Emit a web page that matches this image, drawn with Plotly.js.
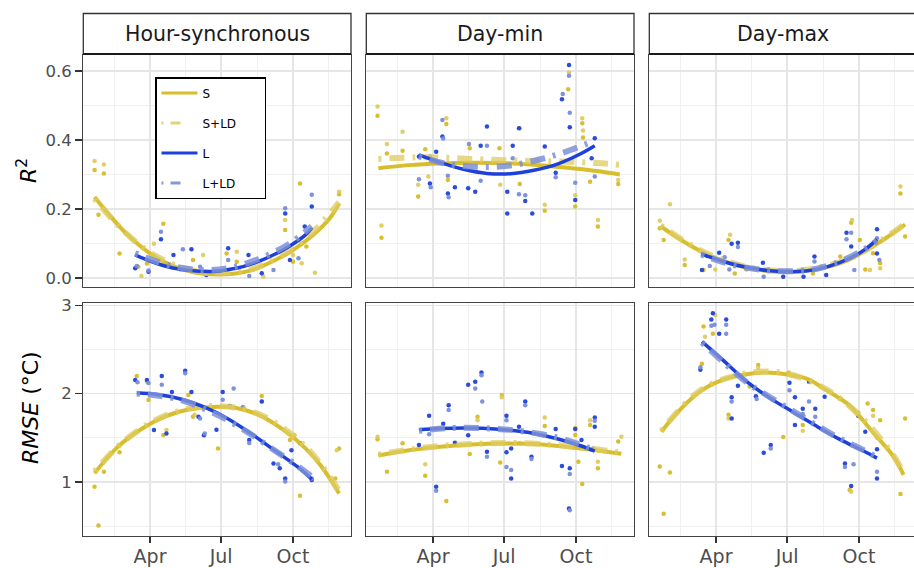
<!DOCTYPE html>
<html>
<head>
<meta charset="utf-8">
<script src="https://cdn.plot.ly/plotly-3.0.1.min.js"></script>
<style>
html,body{margin:0;padding:0;overflow:hidden;background:#fff;}
#chart{width:920px;height:568px;}
</style>
</head>
<body>
<div id="chart"></div>
<script>
// ---------- DATA (day of year, value) ----------
const facetTitles = ["Hour-synchronous", "Day-min", "Day-max"];
const seriesNames = ["S", "S+LD", "L", "L+LD"];
const monthTickDays = [91, 182, 274];
const monthTickText = ["Apr", "Jul", "Oct"];
const monthMinorDays = [45.5, 136.5, 228, 320];
const r2Ticks = [0, 0.2, 0.4, 0.6];
const r2TickText = ["0.0", "0.2", "0.4", "0.6"];
const r2Minor = [0.1, 0.3, 0.5];
const rmseTicks = [1, 2, 3];
const rmseMinor = [0.5, 1.5, 2.5];

// Hour-synchronous, R2
const hsR2_S_pts = [[20,0.313],[32,0.303],[25,0.183],[52,0.071],[76,0.033],[87,0.042],[108,0.157],[146,0.052],[189,0.071],[202,0.047],[264,0.139],[274,0.047],[283,0.274],[291,0.091],[333,0.243]];
const hsR2_SLD_pts = [[20,0.339],[32,0.329],[80,0.006],[96,0.099],[130,0.023],[159,0.067],[202,0.076],[236,0.004],[264,0.168],[274,0.067],[285,0.043],[302,0.015],[333,0.25]];
const hsR2_L_pts = [[72,0.028],[89,0.018],[105,0.112],[121,0.067],[144,0.083],[163,0.009],[191,0.086],[217,0.067],[234,0.014],[264,0.187],[270,0.052],[289,0.149],[298,0.207]];
const hsR2_LLD_pts = [[74,0.035],[89,0.022],[105,0.134],[133,0.083],[155,0.033],[191,0.052],[218,0.006],[249,0.023],[264,0.202],[281,0.057],[298,0.241]];
const hsR2_S_fit = [[20,0.235],[40,0.18],[60,0.13],[80,0.09],[100,0.058],[120,0.035],[140,0.02],[160,0.012],[180,0.01],[200,0.013],[220,0.022],[240,0.04],[260,0.062],[280,0.09],[300,0.125],[320,0.17],[333,0.215]];
const hsR2_SLD_fit = [[20,0.23],[60,0.13],[100,0.062],[140,0.025],[180,0.015],[220,0.025],[260,0.068],[300,0.135],[333,0.22]];
const hsR2_L_fit = [[72,0.067],[90,0.05],[110,0.035],[130,0.025],[150,0.02],[170,0.019],[190,0.024],[210,0.033],[230,0.048],[250,0.068],[270,0.093],[290,0.125],[298,0.145]];
const hsR2_LLD_fit = [[72,0.072],[110,0.04],[150,0.024],[190,0.028],[230,0.055],[270,0.1],[298,0.15]];

// Day-min, R2
const dnR2_S_pts = [[20,0.47],[25,0.117],[32,0.361],[52,0.369],[72,0.236],[81,0.373],[108,0.446],[110,0.284],[138,0.376],[176,0.376],[202,0.272],[234,0.195],[264,0.547],[273,0.207],[282,0.448],[283,0.407],[292,0.279],[302,0.149],[328,0.272]];
const dnR2_SLD_pts = [[20,0.497],[25,0.152],[32,0.388],[52,0.424],[72,0.27],[85,0.294],[108,0.463],[177,0.27],[202,0.434],[234,0.212],[265,0.595],[273,0.24],[282,0.463],[283,0.427],[302,0.168],[328,0.284]];
const dnR2_L_pts = [[73,0.352],[87,0.274],[95,0.366],[103,0.41],[110,0.245],[119,0.263],[136,0.26],[145,0.25],[152,0.383],[160,0.439],[186,0.187],[186,0.25],[193,0.383],[201,0.434],[209,0.223],[218,0.187],[234,0.381],[248,0.305],[256,0.518],[265,0.617],[266,0.437],[273,0.226],[294,0.347],[298,0.405]];
const dnR2_LLD_pts = [[73,0.286],[87,0.352],[88,0.263],[103,0.458],[104,0.404],[110,0.296],[111,0.234],[137,0.388],[152,0.282],[160,0.383],[193,0.347],[201,0.243],[209,0.24],[248,0.292],[257,0.533],[265,0.586],[266,0.479],[273,0.276],[298,0.294]];
const dnR2_S_fit = [[21,0.318],[60,0.327],[100,0.332],[140,0.334],[180,0.333],[220,0.328],[260,0.32],[300,0.31],[330,0.3]];
const dnR2_SLD_fit = [[21,0.345],[80,0.35],[140,0.345],[200,0.34],[260,0.337],[300,0.333],[330,0.328]];
const dnR2_L_fit = [[73,0.357],[100,0.335],[130,0.315],[160,0.303],[190,0.302],[220,0.312],[250,0.33],[280,0.36],[298,0.383]];
const dnR2_LLD_fit = [[73,0.352],[110,0.33],[150,0.322],[190,0.326],[230,0.345],[260,0.365],[298,0.398]];

// Day-max, R2
const dxR2_S_pts = [[19,0.144],[24,0.11],[51,0.038],[75,0.023],[107,0.11],[115,0.013],[130,0.025],[215,0.013],[250,0.062],[264,0.16],[275,0.11],[282,0.025],[292,0.072],[301,0.043],[327,0.245],[333,0.12]];
const dxR2_SLD_pts = [[19,0.166],[32,0.214],[51,0.054],[90,0.025],[109,0.125],[265,0.168],[288,0.023],[301,0.028],[327,0.265]];
const dxR2_L_pts = [[73,0.023],[80,0.064],[95,0.073],[111,0.099],[119,0.102],[151,0.044],[177,0.004],[203,0.004],[217,0.062],[232,0.009],[258,0.131],[264,0.091],[297,0.141],[297,0.071]];
const dxR2_LLD_pts = [[83,0.035],[102,0.06],[119,0.09],[108,0.025],[152,0.004],[217,0.048],[258,0.112],[264,0.131],[268,0.023],[297,0.115],[300,0.052]];
const dxR2_S_fit = [[20,0.15],[50,0.105],[80,0.068],[110,0.042],[140,0.026],[170,0.019],[200,0.02],[230,0.03],[260,0.052],[290,0.09],[310,0.118],[333,0.155]];
const dxR2_SLD_fit = [[20,0.152],[80,0.07],[140,0.028],[200,0.022],[260,0.055],[310,0.12],[333,0.158]];
const dxR2_L_fit = [[72,0.07],[100,0.048],[130,0.031],[160,0.021],[190,0.018],[220,0.025],[250,0.045],[280,0.08],[297,0.112]];
const dxR2_LLD_fit = [[72,0.068],[100,0.046],[130,0.03],[160,0.022],[190,0.02],[220,0.027],[250,0.048],[280,0.082],[297,0.108]];

// Hour-synchronous, RMSE
const hsRM_S_pts = [[20,0.947],[25,0.506],[32,1.117],[52,1.336],[74,2.2],[89,1.928],[108,1.532],[140,1.985],[146,1.74],[178,1.38],[234,1.974],[270,1.475],[283,0.845],[328,1.04],[333,1.38]];
const hsRM_SLD_pts = [[87,2.136],[112,1.589],[148,1.76],[234,1.91],[276,1.532],[330,1.36]];
const hsRM_L_pts = [[72,2.155],[87,2.155],[96,1.589],[106,2.2],[112,1.55],[119,2.02],[136,2.26],[144,2.02],[153,1.74],[160,1.53],[176,1.59],[184,2.02],[193,1.86],[208,1.83],[218,1.475],[234,1.91],[249,1.21],[257,1.155],[264,1.04],[272,1.36],[283,1.438],[298,1.023]];
const hsRM_LLD_pts = [[75,2.13],[89,2.12],[106,2.1],[136,2.23],[155,1.72],[161,1.55],[184,1.93],[198,2.06],[210,1.85],[218,1.44],[255,1.2],[264,1.004],[298,1.04]];
const hsRM_S_fit = [[20,1.1],[50,1.4],[80,1.6],[110,1.74],[140,1.82],[170,1.85],[200,1.84],[230,1.76],[260,1.6],[290,1.38],[310,1.18],[333,0.87]];
const hsRM_SLD_fit = [[20,1.12],[60,1.48],[110,1.75],[170,1.86],[230,1.77],[290,1.4],[333,0.9]];
const hsRM_L_fit = [[74,2.01],[100,1.99],[130,1.94],[160,1.85],[190,1.72],[220,1.55],[250,1.36],[280,1.17],[298,1.03]];
const hsRM_LLD_fit = [[74,2.0],[100,1.98],[130,1.93],[160,1.83],[190,1.7],[220,1.54],[250,1.36],[280,1.18],[298,1.06]];

// Day-min, RMSE
const dnRM_S_pts = [[20,1.483],[32,1.117],[52,1.438],[81,1.07],[108,0.785],[138,1.317],[148,1.74],[177,1.22],[179,1.985],[202,1.438],[234,1.634],[273,1.532],[277,1.23],[282,0.977],[292,1.645],[302,1.155],[328,1.457]];
const dnRM_SLD_pts = [[20,1.513],[81,1.2],[148,1.7],[179,1.96],[234,1.73],[273,1.615],[292,1.7],[302,1.23],[332,1.513]];
const dnRM_L_pts = [[73,1.42],[86,1.75],[95,0.947],[104,1.66],[111,1.87],[119,1.445],[136,2.1],[136,1.53],[145,2.136],[153,2.24],[160,1.343],[185,1.75],[185,1.336],[191,1.38],[191,1.04],[201,1.626],[209,1.91],[217,1.287],[248,1.6],[256,1.18],[266,1.155],[265,0.7],[273,1.6],[281,1.475],[298,1.73],[298,1.626]];
const dnRM_LLD_pts = [[86,1.54],[95,0.9],[111,1.815],[145,2.06],[153,2.21],[154,1.91],[160,1.287],[185,1.7],[185,1.17],[191,1.136],[209,1.87],[217,1.26],[266,1.09],[266,0.68],[296,1.38],[298,1.694]];
const dnRM_S_fit = [[21,1.3],[60,1.36],[100,1.4],[140,1.425],[180,1.435],[220,1.43],[260,1.4],[300,1.36],[332,1.32]];
const dnRM_SLD_fit = [[21,1.31],[80,1.39],[140,1.43],[200,1.44],[260,1.41],[300,1.37],[332,1.33]];
const dnRM_L_fit = [[73,1.59],[100,1.605],[130,1.61],[160,1.605],[190,1.585],[220,1.55],[250,1.49],[280,1.41],[298,1.35]];
const dnRM_LLD_fit = [[73,1.58],[110,1.61],[150,1.61],[190,1.59],[230,1.54],[260,1.48],[298,1.36]];

// Day-max, RMSE
const dxRM_S_pts = [[19,1.174],[24,0.64],[32,1.106],[73,2.34],[75,2.76],[87,2.68],[107,1.76],[134,2.08],[145,2.325],[177,1.51],[184,2.24],[202,1.645],[262,0.91],[273,1.785],[285,1.89],[292,1.815],[301,1.7],[327,0.864],[333,1.72]];
const dxRM_SLD_pts = [[77,2.645],[90,2.89],[107,1.72],[145,2.29],[202,1.58],[264,0.89],[273,1.75],[292,1.75],[297,1.5]];
const dxRM_L_pts = [[71,2.27],[85,2.84],[87,2.91],[95,2.68],[104,2.84],[111,1.96],[111,1.72],[119,2.09],[142,1.97],[152,1.33],[161,1.42],[185,2.125],[192,1.96],[192,1.645],[202,1.83],[210,2.136],[218,1.83],[230,1.966],[256,1.21],[264,0.955],[273,1.75],[282,1.57],[297,1.37],[297,1.04]];
const dxRM_LLD_pts = [[71,2.3],[85,2.77],[89,2.78],[104,2.78],[104,2.68],[111,1.91],[143,1.94],[161,1.38],[185,2.04],[202,1.77],[210,1.91],[218,1.74],[256,1.17],[267,1.2],[297,1.117]];
const dxRM_S_fit = [[21,1.57],[45,1.82],[73,2.04],[100,2.16],[130,2.22],[156,2.24],[180,2.22],[207,2.17],[232,2.04],[260,1.88],[273,1.76],[292,1.56],[318,1.29],[331,1.08]];
const dxRM_SLD_fit = [[21,1.58],[73,2.05],[130,2.23],[180,2.23],[232,2.05],[273,1.77],[318,1.3],[331,1.1]];
const dxRM_L_fit = [[73,2.59],[100,2.38],[130,2.14],[160,1.95],[190,1.79],[220,1.63],[250,1.48],[280,1.35],[297,1.27]];
const dxRM_LLD_fit = [[73,2.58],[100,2.36],[130,2.13],[160,1.96],[190,1.8],[220,1.64],[250,1.49],[280,1.36],[297,1.28]];

// ---------- LAYOUT HELPERS ----------
const W = 920, H = 568;
const fx = v => v / W, fy = v => 1 - v / H;
const colPx = [[83.3, 351], [366.3, 634], [649.3, 917]];
const rowPx = [[55, 287], [303, 536]];
const xRange = [5.6, 348.2];
const yRanges = [[-0.026, 0.646], [0.388, 3.027]];

const panels = [
  {S: hsR2_S_pts, SLD: hsR2_SLD_pts, L: hsR2_L_pts, LLD: hsR2_LLD_pts, fS: hsR2_S_fit, fSLD: hsR2_SLD_fit, fL: hsR2_L_fit, fLLD: hsR2_LLD_fit},
  {S: dnR2_S_pts, SLD: dnR2_SLD_pts, L: dnR2_L_pts, LLD: dnR2_LLD_pts, fS: dnR2_S_fit, fSLD: dnR2_SLD_fit, fL: dnR2_L_fit, fLLD: dnR2_LLD_fit},
  {S: dxR2_S_pts, SLD: dxR2_SLD_pts, L: dxR2_L_pts, LLD: dxR2_LLD_pts, fS: dxR2_S_fit, fSLD: dxR2_SLD_fit, fL: dxR2_L_fit, fLLD: dxR2_LLD_fit},
  {S: hsRM_S_pts, SLD: hsRM_SLD_pts, L: hsRM_L_pts, LLD: hsRM_LLD_pts, fS: hsRM_S_fit, fSLD: hsRM_SLD_fit, fL: hsRM_L_fit, fLLD: hsRM_LLD_fit},
  {S: dnRM_S_pts, SLD: dnRM_SLD_pts, L: dnRM_L_pts, LLD: dnRM_LLD_pts, fS: dnRM_S_fit, fSLD: dnRM_SLD_fit, fL: dnRM_L_fit, fLLD: dnRM_LLD_fit},
  {S: dxRM_S_pts, SLD: dxRM_SLD_pts, L: dxRM_L_pts, LLD: dxRM_LLD_pts, fS: dxRM_S_fit, fSLD: dxRM_SLD_fit, fL: dxRM_L_fit, fLLD: dxRM_LLD_fit}
];

const styles = {
  S:   {pt: 'rgba(214,188,38,0.95)', line: {color: '#D8BE2C', width: 4}, leg: {color: '#D8BE2C', width: 3}},
  SLD: {pt: 'rgba(222,200,90,0.9)', line: {color: 'rgba(222,203,95,0.75)', width: 6, dash: '3px,8px,15px,8px'}, leg: {color: 'rgba(222,203,95,0.85)', width: 3, dash: '2px,7px,10px,30px'}},
  L:   {pt: 'rgba(32,66,216,0.95)', line: {color: '#1E40DA', width: 3.5}, leg: {color: '#1E40DA', width: 3}},
  LLD: {pt: 'rgba(120,140,218,0.95)', line: {color: 'rgba(125,145,215,0.85)', width: 6, dash: '3px,8px,15px,8px'}, leg: {color: 'rgba(125,145,215,0.95)', width: 3, dash: '2px,7px,10px,30px'}}
};
const keys = ['S', 'SLD', 'L', 'LLD'];

const traces = [];
// legend-only entries (thin keys, like the reference legend)
keys.forEach((k, j) => {
  traces.push({type: 'scatter', mode: 'lines', x: [null], y: [null], name: seriesNames[j],
    legendgroup: seriesNames[j], showlegend: true, line: styles[k].leg, hoverinfo: 'skip'});
});
panels.forEach((p, i) => {
  const ax = i === 0 ? '' : String(i + 1);
  keys.forEach((k, j) => {
    traces.push({
      type: 'scatter', mode: 'markers', x: p[k].map(d => d[0]), y: p[k].map(d => d[1]),
      xaxis: 'x' + ax, yaxis: 'y' + ax, legendgroup: seriesNames[j], showlegend: false,
      marker: {color: styles[k].pt, size: 4.5}, hoverinfo: 'skip'
    });
  });
});
panels.forEach((p, i) => {
  const ax = i === 0 ? '' : String(i + 1);
  keys.forEach((k, j) => {
    const f = p['f' + k];
    traces.push({
      type: 'scatter', mode: 'lines', x: f.map(d => d[0]), y: f.map(d => d[1]),
      xaxis: 'x' + ax, yaxis: 'y' + ax, name: seriesNames[j], legendgroup: seriesNames[j],
      showlegend: false, line: Object.assign({shape: 'spline', smoothing: 1}, styles[k].line),
      hoverinfo: 'skip'
    });
  });
});

const font = 'DejaVu Sans, Arial, sans-serif';
const NB = '\u00A0';
const layout = {
  width: W, height: H, margin: {l: 0, r: 0, t: 0, b: 0},
  paper_bgcolor: '#fff', plot_bgcolor: '#fff',
  font: {family: font, color: '#4d4d4d'},
  showlegend: true,
  legend: {
    x: fx(155), y: fy(77), xanchor: 'left', yanchor: 'top',
    bordercolor: '#000', borderwidth: 1.5, bgcolor: '#fff',
    font: {family: font, size: 12, color: '#000'},
    traceorder: 'grouped', tracegroupgap: 11, itemwidth: 36
  },
  shapes: [], annotations: []
};
// widen legend box like the reference (text stays left-aligned)
traces.slice(0, 4).forEach(t => { t.name = t.name + NB.repeat(14 - t.name.length * 2); });

for (let i = 0; i < 6; i++) {
  const r = Math.floor(i / 3), c = i % 3;
  const ax = i === 0 ? '' : String(i + 1);
  layout['xaxis' + ax] = {
    domain: [fx(colPx[c][0]), fx(colPx[c][1])], anchor: 'y' + ax,
    range: xRange, tickmode: 'array', tickvals: monthTickDays, ticktext: monthTickText,
    showticklabels: r === 1, ticks: r === 1 ? 'outside' : '', ticklen: 6, tickwidth: 1.5, tickcolor: '#333',
    ticklabelstandoff: -3,
    tickfont: {family: font, size: 19, color: '#4d4d4d'},
    showgrid: true, gridcolor: '#E6E6E6', gridwidth: 1.4, zeroline: false,
    showline: true, mirror: true, linecolor: '#444', linewidth: 1.3,
    minor: {tickmode: 'array', tickvals: monthMinorDays, showgrid: true, gridcolor: '#F0F0F0', gridwidth: 1, ticks: ''},
    fixedrange: true
  };
  layout['yaxis' + ax] = {
    domain: [fy(rowPx[r][1]), fy(rowPx[r][0])], anchor: 'x' + ax,
    range: yRanges[r], tickmode: 'array',
    tickvals: r === 0 ? r2Ticks : rmseTicks,
    ticktext: r === 0 ? r2TickText : rmseTicks.map(String),
    showticklabels: c === 0, ticks: c === 0 ? 'outside' : '', ticklen: 7, tickwidth: 1.5, tickcolor: '#333',
    tickfont: {family: font, size: 16.5, color: '#4d4d4d'},
    showgrid: true, gridcolor: '#E6E6E6', gridwidth: 1.4, zeroline: false,
    showline: true, mirror: true, linecolor: '#444', linewidth: 1.3,
    minor: {tickmode: 'array', tickvals: r === 0 ? r2Minor : rmseMinor, showgrid: true, gridcolor: '#F0F0F0', gridwidth: 1, ticks: ''},
    fixedrange: true
  };
}

// facet strips
for (let c = 0; c < 3; c++) {
  layout.shapes.push({type: 'rect', xref: 'paper', yref: 'paper',
    x0: fx(colPx[c][0]), x1: fx(colPx[c][1]), y0: fy(54), y1: fy(13.5),
    line: {color: '#333', width: 1.3}, fillcolor: '#fff', layer: 'above'});
  layout.shapes.push({type: 'line', xref: 'paper', yref: 'paper',
    x0: fx(colPx[c][0]), x1: fx(colPx[c][1]), y0: fy(54), y1: fy(54),
    line: {color: '#1a1a1a', width: 2.2}, layer: 'above'});
  layout.annotations.push({xref: 'paper', yref: 'paper', x: fx((colPx[c][0] + colPx[c][1]) / 2), y: fy(33.5),
    xanchor: 'center', yanchor: 'middle', showarrow: false, text: facetTitles[c],
    font: {family: font, size: 20.5, color: '#1a1a1a'}});
}
// axis titles
layout.annotations.push({xref: 'paper', yref: 'paper', x: fx(27), y: fy(171), textangle: -90,
  xanchor: 'center', yanchor: 'middle', showarrow: false, text: '<i>R</i><sup>2</sup>',
  font: {family: font, size: 22, color: '#000'}});
layout.annotations.push({xref: 'paper', yref: 'paper', x: fx(30), y: fy(408), textangle: -90,
  xanchor: 'center', yanchor: 'middle', showarrow: false, text: '<i>RMSE</i> (°C)',
  font: {family: font, size: 22, color: '#000'}});

Plotly.newPlot('chart', traces, layout, {displayModeBar: false, staticPlot: true});
</script>
</body>
</html>
